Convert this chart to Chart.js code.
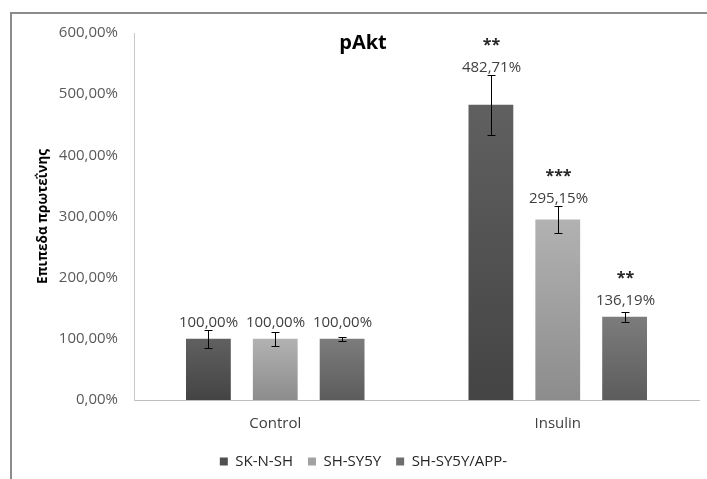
<!DOCTYPE html>
<html>
<head>
<meta charset="utf-8">
<script src="https://cdn.jsdelivr.net/npm/chart.js@4/dist/chart.umd.min.js"></script>
<style>
  html, body { margin: 0; padding: 0; background: #fff; }
  #wrap { position: relative; width: 707px; height: 479px; overflow: hidden; }
  #frame { position: absolute; left: 10px; top: 12px; width: 800px; height: 600px;
           border: 2px solid #8c8c8c; box-sizing: border-box; }
  #chart { position: absolute; left: 0; top: 0; }
</style>
</head>
<body>
<div id="wrap">
  <div id="frame"></div>
  <canvas id="chart" width="707" height="479"></canvas>
</div>
<script>
'use strict';

/* ─── Data ─── */
const categories  = ['Control', 'Insulin'];
const seriesNames = ['SK-N-SH', 'SH-SY5Y', 'SH-SY5Y/APP-'];

const skValues  = [100, 482.71];
const syValues  = [100, 295.15];
const appValues = [100, 136.19];

const skErrors  = [15, 49];
const syErrors  = [11, 22];
const appErrors = [3, 8];

const skStars  = ['', '**'];
const syStars  = ['', '***'];
const appStars = ['', '**'];

const yTickValues = [0, 100, 200, 300, 400, 500, 600];

/* ─── Styles ─── */
const FONT = '"Open Sans", "Noto Sans", sans-serif';
const TXT  = 15;
const gradients = [
  ['#606060', '#444444'],
  ['#b2b2b2', '#8c8c8c'],
  ['#7c7c7c', '#5c5c5c']
];
const legendColors = ['#4f4f4f', '#a2a2a2', '#6e6e6e'];

const fmtPct = v => v.toFixed(2).replace('.', ',') + '%';

function barFill(seriesIdx) {
  return ctx => {
    const chart = ctx.chart;
    const y = chart.scales && chart.scales.y;
    if (!chart.chartArea || !y || ctx.dataIndex === undefined) return gradients[seriesIdx][1];
    const top = y.getPixelForValue(ctx.raw);
    const bottom = y.getPixelForValue(0);
    const g = chart.ctx.createLinearGradient(0, top, 0, bottom);
    g.addColorStop(0, gradients[seriesIdx][0]);
    g.addColorStop(1, gradients[seriesIdx][1]);
    return g;
  };
}

const errorSets = [skErrors, syErrors, appErrors];
const starSets  = [skStars, syStars, appStars];

/* ─── Error bars, value labels, stars, title ─── */
const annotations = {
  id: 'annotations',
  afterDatasetsDraw(chart) {
    const { ctx } = chart;
    const y = chart.scales.y;
    ctx.save();
    chart.data.datasets.forEach((ds, di) => {
      const meta = chart.getDatasetMeta(di);
      meta.data.forEach((bar, i) => {
        const v = ds.data[i];
        const err = errorSets[di][i];
        const x = Math.round(bar.x) + 0.5;
        const yHi = Math.round(y.getPixelForValue(v + err)) + 0.5;
        const yLo = Math.round(y.getPixelForValue(v - err)) + 0.5;
        const yTop = y.getPixelForValue(v);

        ctx.strokeStyle = '#000';
        ctx.lineWidth = 1;
        ctx.beginPath();
        ctx.moveTo(x, yHi);
        ctx.lineTo(x, yLo);
        ctx.moveTo(x - 4, yHi);
        ctx.lineTo(x + 4, yHi);
        ctx.moveTo(x - 4, yLo);
        ctx.lineTo(x + 4, yLo);
        ctx.stroke();

        const labelY = Math.min(yHi - 8, yTop - 16);
        ctx.fillStyle = '#404040';
        ctx.font = TXT + 'px ' + FONT;
        ctx.textAlign = 'center';
        ctx.textBaseline = 'middle';
        ctx.fillText(fmtPct(v), x, labelY);

        const star = starSets[di][i];
        if (star) {
          ctx.font = 'bold 16px ' + FONT;
          ctx.fillStyle = '#262626';
          ctx.fillText(star, x, labelY - 22);
        }
      });
    });

    ctx.font = 'bold 20px ' + FONT;
    ctx.fillStyle = '#000';
    ctx.textAlign = 'center';
    ctx.textBaseline = 'middle';
    ctx.fillText('pAkt', 363, 43);
    ctx.restore();
  }
};

const chart = new Chart(document.getElementById('chart'), {
  type: 'bar',
  data: {
    labels: categories,
    datasets: [
      { label: seriesNames[0], data: skValues,  backgroundColor: barFill(0) },
      { label: seriesNames[1], data: syValues,  backgroundColor: barFill(1) },
      { label: seriesNames[2], data: appValues, backgroundColor: barFill(2) }
    ]
  },
  plugins: [annotations],
  options: {
    responsive: false,
    animation: false,
    events: [],
    datasets: { bar: { categoryPercentage: 0.71, barPercentage: 0.67 } },
    layout: { padding: { left: 28, right: 8, top: 33, bottom: 0 } },
    plugins: {
      title: { display: false },
      tooltip: { enabled: false },
      legend: {
        position: 'bottom',
        labels: {
          color: '#262626',
          font: { family: FONT, size: TXT },
          boxWidth: 8,
          boxHeight: 8,
          padding: 15,
          generateLabels: ch => Chart.defaults.plugins.legend.labels.generateLabels(ch).map((l, i) => {
            l.fillStyle = legendColors[i];
            l.strokeStyle = legendColors[i];
            l.lineWidth = 0;
            return l;
          })
        }
      }
    },
    scales: {
      x: {
        grid: { display: false, drawTicks: false },
        border: { display: true, color: '#bfbfbf', width: 1 },
        ticks: { color: '#404040', font: { family: FONT, size: TXT }, padding: 15 },
        afterFit: s => { s.height = 39; }
      },
      y: {
        min: 0,
        max: 600,
        afterBuildTicks: s => { s.ticks = yTickValues.map(v => ({ value: v })); },
        grid: { display: false, drawTicks: false },
        border: { display: true, color: '#c8c8c8', width: 1 },
        ticks: {
          color: '#595959',
          font: { family: FONT, size: TXT },
          padding: 16,
          callback: v => fmtPct(v)
        },
        title: {
          display: true,
          text: 'Επιπεδα πρωτεΐνης',
          color: '#000',
          font: { family: FONT, size: 13.5, weight: 'bold' },
          padding: { top: 7, bottom: 0 }
        },
        afterFit: s => { s.width = 106; }
      }
    }
  }
});
</script>
</body>
</html>
